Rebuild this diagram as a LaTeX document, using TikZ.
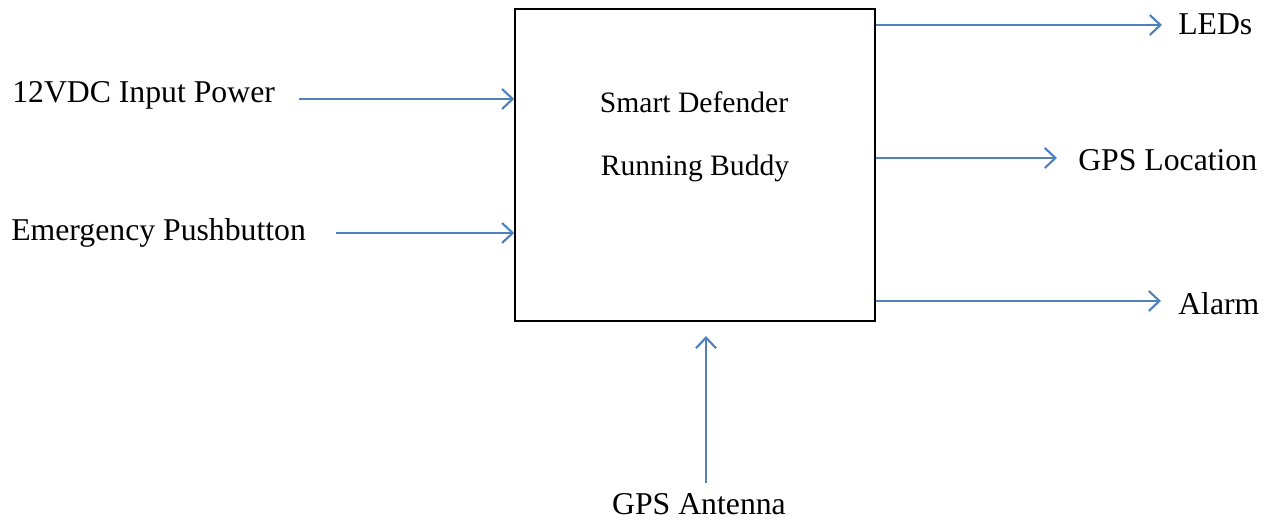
\documentclass[tikz,border=0pt]{standalone}
\usepackage{fontspec}
\setmainfont{Liberation Serif}
\usetikzlibrary{arrows.meta}

\tikzset{
  block/.style={draw=black, line width=1.1pt, minimum width=270pt, minimum height=234pt, inner sep=0pt},
  sig/.style={draw=sigblue, line width=1.6pt, -{Straight Barb[length=8pt, width=15pt, line width=1.6pt]}},
  lbl/.style={inner sep=0pt, font=\fontsize{23.8}{28}\selectfont},
  inlbl/.style={inner sep=0pt, font=\fontsize{22.2}{26}\selectfont}
}
\definecolor{sigblue}{RGB}{79,129,189}

\begin{document}
\begin{tikzpicture}[x=0.75pt, y=-0.75pt]
\useasboundingbox (0,0) rectangle (1270,520);
% main block
\node[block] (sdrb) at (695,165) {};
\node[inlbl, anchor=base] (sdname) at (694,113) {Smart Defender};
\node[inlbl, anchor=base] (rbname) at (695,176) {Running Buddy};
% inputs
\node[lbl, anchor=base west] (pwr) at (12,103) {12VDC Input Power};
\node[lbl, anchor=base west] (ebtn) at (11,241) {Emergency Pushbutton};
\node[lbl, anchor=base] (ant) at (699,514) {GPS Antenna};
\coordinate (pwrin) at (299,99);
\coordinate (ebtnin) at (336,233);
\coordinate (antin) at (706,483);
\draw[sig] (pwrin) -- (pwrin -| sdrb.west);
\draw[sig] (ebtnin) -- (ebtnin -| sdrb.west);
\draw[sig] (antin) -- (antin |- 0,336);
% outputs
\node[lbl, anchor=base west] (leds) at (1178,35) {LEDs};
\node[lbl, anchor=base west] (gpsloc) at (1078,171) {GPS Location};
\node[lbl, anchor=base west] (alarm) at (1178,314) {Alarm};
\coordinate (ledsout) at (1162,25);
\coordinate (gpsout) at (1057,158);
\coordinate (alarmout) at (1161,301);
\draw[sig] (ledsout -| sdrb.east) -- (ledsout);
\draw[sig] (gpsout -| sdrb.east) -- (gpsout);
\draw[sig] (alarmout -| sdrb.east) -- (alarmout);
\end{tikzpicture}
\end{document}
